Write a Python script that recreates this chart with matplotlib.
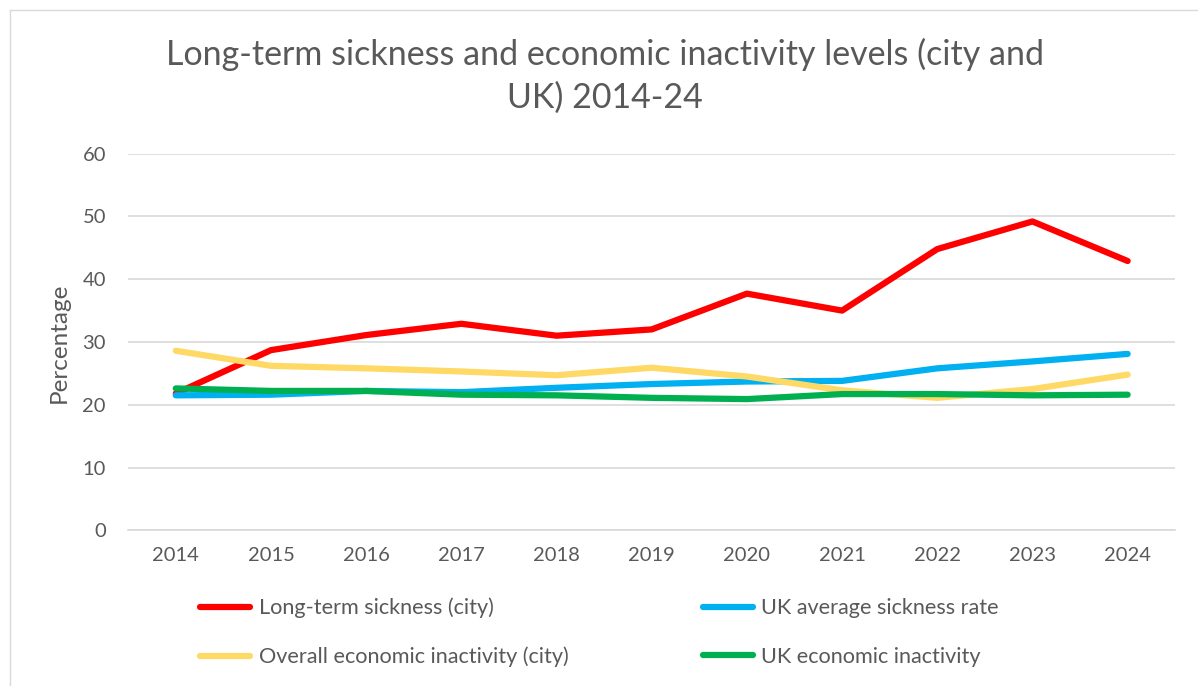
import matplotlib.pyplot as plt
from matplotlib.lines import Line2D

years = ['2014', '2015', '2016', '2017', '2018', '2019', '2020', '2021', '2022', '2023', '2024']
sickness_city = [21.8, 28.7, 31.1, 32.9, 31.0, 32.0, 37.7, 35.0, 44.8, 49.2, 42.9]
uk_sickness = [21.5, 21.6, 22.2, 22.0, 22.7, 23.3, 23.7, 23.8, 25.8, 26.9, 28.1]
inactivity_city = [28.6, 26.2, 25.8, 25.3, 24.7, 25.9, 24.5, 22.3, 21.1, 22.5, 24.8]
uk_inactivity = [22.6, 22.2, 22.2, 21.6, 21.5, 21.1, 20.9, 21.7, 21.7, 21.5, 21.6]

plt.rcParams['font.family'] = ['Lato', 'DejaVu Sans']
grey = '#595959'

fig = plt.figure(figsize=(11.98, 6.86), dpi=100)
ax = fig.add_axes([0.107, 0.227, 0.874, 0.549])

x = range(len(years))
ax.plot(x, sickness_city, color='#ff0000', lw=4.5, solid_capstyle='round', label='Long-term sickness (city)')
ax.plot(x, uk_sickness, color='#00b0f0', lw=4.5, solid_capstyle='round', label='UK average sickness rate')
ax.plot(x, inactivity_city, color='#ffd966', lw=4.5, solid_capstyle='round', label='Overall economic inactivity (city)')
ax.plot(x, uk_inactivity, color='#00b050', lw=4.5, solid_capstyle='round', label='UK economic inactivity')

ax.set_xlim(-0.5, len(years) - 0.5)
ax.set_ylim(0, 60)
ax.set_yticks(range(0, 61, 10))
ax.set_xticks(list(x))
ax.set_xticklabels(years)
ax.tick_params(length=0, labelsize=14.5, colors=grey)
ax.tick_params(axis='y', pad=16)
ax.tick_params(axis='x', pad=12)
ax.grid(axis='y', color='#d9d9d9', lw=1.2)
ax.set_axisbelow(True)
for s in ['top', 'right', 'left']:
    ax.spines[s].set_visible(False)
ax.spines['bottom'].set_color('#d9d9d9')
ax.spines['bottom'].set_linewidth(1.2)

# axis title and chart title
fig.text(59 / 1198, 0.5, 'Percentage', rotation=90, ha='center', va='center',
         fontsize=17.5, color=grey)
fig.text(0.505, 0.889, 'Long-term sickness and economic inactivity levels (city and\nUK) 2014-24',
         ha='center', va='center', fontsize=24.5, color=grey, linespacing=1.4)

# legend in two columns below the plot
handles, labels = ax.get_legend_handles_labels()
order = [0, 2, 1, 3]
fig.legend([handles[i] for i in order], [labels[i] for i in order], ncol=2,
           loc='upper left', bbox_to_anchor=(0.151, 0.157), frameon=False,
           fontsize=15.6, labelcolor=grey, handlelength=2.3, handletextpad=0.4,
           columnspacing=6.2, labelspacing=1.3)

# thin outline round the chart
fig.add_artist(Line2D([10 / 1198, 1], [1 - 10 / 686, 1 - 10 / 686], color='#d9d9d9', lw=1))
fig.add_artist(Line2D([10 / 1198, 10 / 1198], [0, 1 - 10 / 686], color='#d9d9d9', lw=1))

fig.savefig('out.png', dpi=100)
